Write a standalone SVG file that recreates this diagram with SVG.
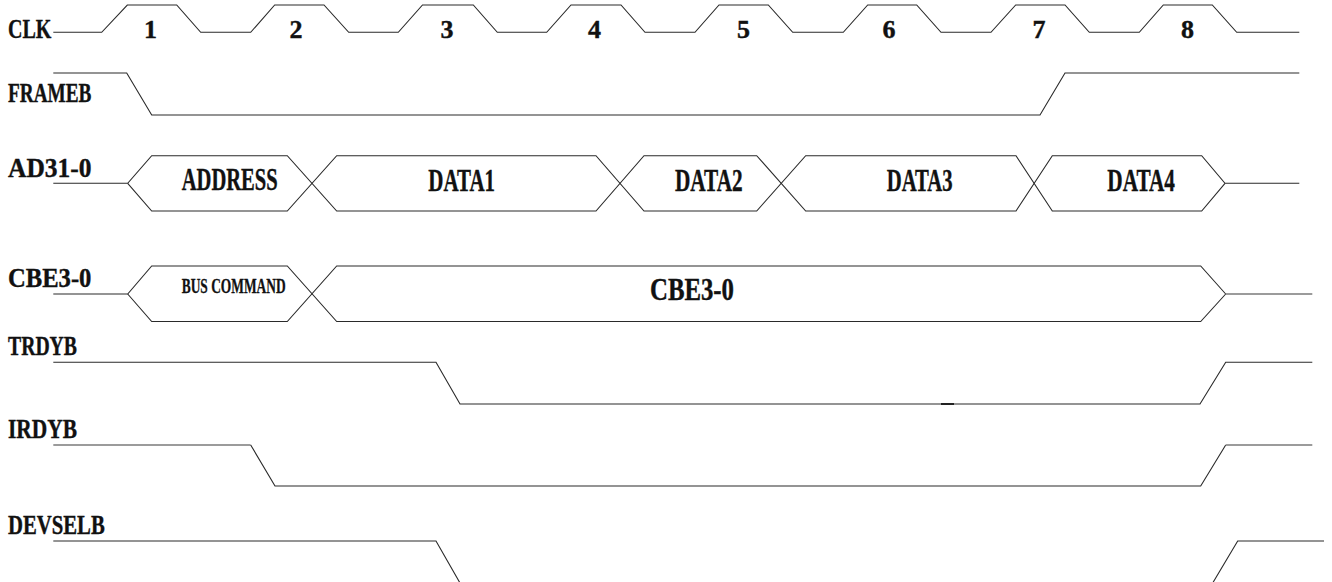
<svg xmlns="http://www.w3.org/2000/svg" width="1332" height="582" viewBox="0 0 1332 582">
<style>
.w{fill:none;stroke:#2a2a2a;stroke-width:1.1;stroke-linejoin:miter}
.g{fill:none;stroke:#7a7a7a;stroke-width:1.4}
.lbl,.num,.bus,.sm{font-family:"Liberation Serif","Times New Roman",serif;font-weight:bold;fill:#111;stroke:#111;stroke-width:0.4}
.lbl{font-size:28px}
.num{font-size:26px;text-anchor:middle}
.bus{font-size:31px}
.sm{font-size:20px;stroke-width:0.3}
</style>
<rect width="1332" height="582" fill="#fff"/>

<g id="clk">
<text class="lbl" x="8" y="38.3" textLength="43.4" lengthAdjust="spacingAndGlyphs">CLK</text>
<path class="w" d="M53.3 32.3H101.7L127.3 5H176.7L200.7 32.3H250.7L274.7 5H324L348.7 32.3H398.3L422.5 5H473.3L497.3 32.3H546.7L571 5H621L645 32.3H695L719 5H768.3L792.7 32.3H843.3L867.7 5H916.7L941 32.3H991L1015.7 5H1065L1089.3 32.3H1139.3L1163.3 5H1212.3L1236.7 32.3H1299.3"/>
<text class="num" x="150.5" y="38.3">1</text>
<text class="num" x="296" y="38.3">2</text>
<text class="num" x="447" y="38.3">3</text>
<text class="num" x="594.5" y="38.3">4</text>
<text class="num" x="743.5" y="38.3">5</text>
<text class="num" x="889" y="38.3">6</text>
<text class="num" x="1039" y="38.3">7</text>
<text class="num" x="1187.5" y="38.3">8</text>
</g>

<g id="frameb">
<text class="lbl" x="8" y="101.7" textLength="83.4" lengthAdjust="spacingAndGlyphs">FRAMEB</text>
<path class="w" d="M53.3 73H126.7L151.7 115H1040L1065 73H1299.3"/>
</g>

<g id="ad">
<text class="lbl" x="8" y="176.7" textLength="83.4" lengthAdjust="spacingAndGlyphs">AD31-0</text>
<path class="w" d="M53.3 183.3H127.7L151.7 155.7H287.3L336.7 211H596L644 155.7H756.7L805.7 211H1016L1052.3 155.7H1201.7L1225 183.3H1299.3"/>
<path class="w" d="M127.7 183.3L151.7 211H287.3L336.7 155.7H596L644 211H756.7L805.7 155.7H1016L1052.3 211H1201.7L1225 183.3"/>
<text class="bus" x="181.7" y="190.3" textLength="96" lengthAdjust="spacingAndGlyphs">ADDRESS</text>
<text class="bus" x="428.3" y="190.5" textLength="66.7" lengthAdjust="spacingAndGlyphs">DATA1</text>
<text class="bus" x="675" y="190.5" textLength="67.7" lengthAdjust="spacingAndGlyphs">DATA2</text>
<text class="bus" x="886.7" y="190.5" textLength="66" lengthAdjust="spacingAndGlyphs">DATA3</text>
<text class="bus" x="1107.3" y="190.5" textLength="67.7" lengthAdjust="spacingAndGlyphs">DATA4</text>
</g>

<g id="cbe">
<text class="lbl" x="8" y="286.7" textLength="83.4" lengthAdjust="spacingAndGlyphs">CBE3-0</text>
<path class="w" d="M53.3 294H127.7L151.7 266H287.3L336.7 321.5H1200.7L1225.7 294"/>
<path class="w" d="M127.7 294L151.7 321.5H287.3L336.7 266H1200.7L1225.7 294"/>
<path class="g" d="M1225.7 294H1312.3"/>
<text class="sm" x="181.7" y="293.3" textLength="104" lengthAdjust="spacingAndGlyphs">BUS COMMAND</text>
<text class="bus" x="650" y="300" textLength="84" lengthAdjust="spacingAndGlyphs">CBE3-0</text>
</g>

<g id="trdyb">
<text class="lbl" x="8" y="355" textLength="69" lengthAdjust="spacingAndGlyphs">TRDYB</text>
<path class="w" d="M53.3 362.3H436L460 404H1200L1225.7 362.3H1312.3"/>
<path d="M941 404H954" stroke="#222" stroke-width="2"/>
</g>

<g id="irdyb">
<text class="lbl" x="8" y="438.3" textLength="69" lengthAdjust="spacingAndGlyphs">IRDYB</text>
<path class="g" d="M53.3 445H250.7"/>
<path class="w" d="M250.7 445L275 486H1200.7L1225.7 445"/>
<path class="g" d="M1225.7 445H1312.3"/>
</g>

<g id="devselb">
<text class="lbl" x="8" y="534" textLength="96.7" lengthAdjust="spacingAndGlyphs">DEVSELB</text>
<path class="w" d="M53.3 541H436L460 583"/>
<path class="w" d="M1212.7 583L1237.7 541H1324"/>
</g>
</svg>
